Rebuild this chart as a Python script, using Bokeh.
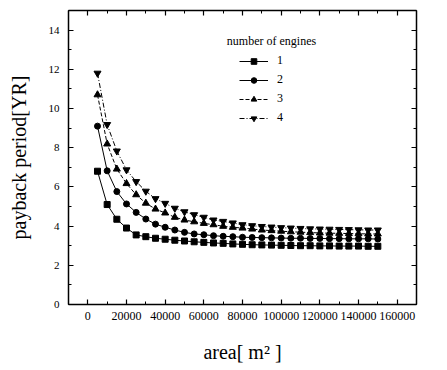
from bokeh.plotting import figure
from bokeh.models import (Range1d, LinearAxis, SingleIntervalTicker, Legend, LegendItem,
                          Label, BasicTickFormatter, CustomJSTickFormatter)
from bokeh.embed import file_html
from bokeh.resources import INLINE

# ---- data ----
area = [5000, 10000, 15000, 20000, 25000, 30000, 35000, 40000, 45000, 50000,
        55000, 60000, 65000, 70000, 75000, 80000, 85000, 90000, 95000, 100000,
        105000, 110000, 115000, 120000, 125000, 130000, 135000, 140000, 145000, 150000]

engines_1 = [6.8, 5.1, 4.35, 3.9, 3.55, 3.46, 3.38, 3.33, 3.28, 3.24,
             3.2, 3.17, 3.14, 3.12, 3.09, 3.07, 3.05, 3.04, 3.03, 3.02,
             3.01, 3.0, 3.0, 2.99, 2.99, 2.98, 2.98, 2.98, 2.97, 2.97]
engines_2 = [9.1, 6.82, 5.76, 5.13, 4.7, 4.36, 4.1, 3.94, 3.8, 3.68,
             3.6, 3.56, 3.51, 3.48, 3.46, 3.43, 3.42, 3.41, 3.4, 3.39,
             3.38, 3.38, 3.37, 3.37, 3.36, 3.36, 3.35, 3.35, 3.35, 3.34]
engines_3 = [10.7, 8.19, 6.91, 6.17, 5.6, 5.17, 4.87, 4.67, 4.45, 4.31,
             4.22, 4.14, 4.07, 3.99, 3.94, 3.9, 3.85, 3.8, 3.77, 3.74,
             3.71, 3.69, 3.67, 3.65, 3.64, 3.63, 3.62, 3.61, 3.6, 3.6]
engines_4 = [11.8, 9.18, 7.83, 6.87, 6.27, 5.78, 5.4, 5.16, 4.91, 4.73,
             4.58, 4.45, 4.31, 4.24, 4.16, 4.07, 4.02, 3.98, 3.95, 3.92,
             3.9, 3.88, 3.86, 3.85, 3.84, 3.83, 3.82, 3.81, 3.8, 3.8]

series_labels = ["1", "2", "3", "4"]
legend_title = "number of engines"
x_title = "area[ m² ]"
y_title = "payback period[YR]"

FONT = "Liberation Serif"

p = figure(width=447, height=370, output_backend="svg", toolbar_location=None,
           x_range=Range1d(-10000, 170000), y_range=Range1d(0, 15),
           x_axis_location=None, y_axis_location=None,
           min_border_left=68, min_border_right=31, min_border_top=10, min_border_bottom=66)
p.grid.visible = False
p.outline_line_color = None
p.background_fill_color = "white"
p.border_fill_color = "white"


def style(ax, labels=True):
    ax.major_tick_in = 5
    ax.major_tick_out = 0
    ax.minor_tick_in = 3
    ax.minor_tick_out = 0
    ax.axis_line_width = 1.5
    ax.major_tick_line_width = 1.2
    ax.minor_tick_line_width = 1
    ax.axis_line_color = "black"
    ax.major_tick_line_color = "black"
    ax.minor_tick_line_color = "black"
    ax.major_label_text_font = FONT
    ax.major_label_text_color = "black"
    ax.axis_label_text_color = "black"
    if labels:
        ax.major_label_text_font_size = "12px"
        ax.major_label_standoff = 7
    else:
        ax.formatter = CustomJSTickFormatter(code="return ''")
        ax.major_label_text_font_size = "1px"
        ax.major_label_standoff = 0


xb = LinearAxis(ticker=SingleIntervalTicker(interval=20000, num_minor_ticks=2),
                formatter=BasicTickFormatter(use_scientific=False),
                axis_label=x_title, axis_label_standoff=18,
                axis_label_text_font=FONT, axis_label_text_font_size="20px",
                axis_label_text_font_style="normal")
style(xb)
xt = LinearAxis(ticker=SingleIntervalTicker(interval=20000, num_minor_ticks=2))
style(xt, labels=False)
yl = LinearAxis(ticker=SingleIntervalTicker(interval=2, num_minor_ticks=2),
                axis_label=y_title, axis_label_standoff=16,
                axis_label_text_font=FONT, axis_label_text_font_size="20px",
                axis_label_text_font_style="normal")
style(yl)
yl.major_label_text_font_size = "11px"
yl.major_label_standoff = 9
yr = LinearAxis(ticker=SingleIntervalTicker(interval=2, num_minor_ticks=2))
style(yr, labels=False)

p.add_layout(xb, "below")
p.add_layout(xt, "above")
p.add_layout(yl, "left")
p.add_layout(yr, "right")

series = [engines_1, engines_2, engines_3, engines_4]
markers = ["square", "circle", "triangle", "inverted_triangle"]
sizes = [6, 6, 7, 7]
dashes = ["solid", "solid", "4 2", "5 2 1 2"]

items = []
for ys, m, s, d, lab in zip(series, markers, sizes, dashes, series_labels):
    ln = p.line(area, ys, line_color="black", line_width=1, line_dash=d)
    sc = p.scatter(area, ys, marker=m, size=s, fill_color="black", line_color="black")
    items.append(LegendItem(label=lab, renderers=[ln, sc]))

legend = Legend(items=items, location=(171, 179), padding=0, margin=0,
                border_line_color=None, background_fill_alpha=0,
                glyph_width=29, glyph_height=14, label_height=14, spacing=4,
                label_standoff=9, label_text_font=FONT, label_text_font_size="12px",
                label_text_color="black")
p.add_layout(legend)

p.add_layout(Label(x=203, y=264, x_units="screen", y_units="screen", text=legend_title,
                   text_align="center", text_baseline="middle",
                   text_font=FONT, text_font_size="12px", text_color="black"))

open("out.html", "w").write(file_html(p, INLINE))
